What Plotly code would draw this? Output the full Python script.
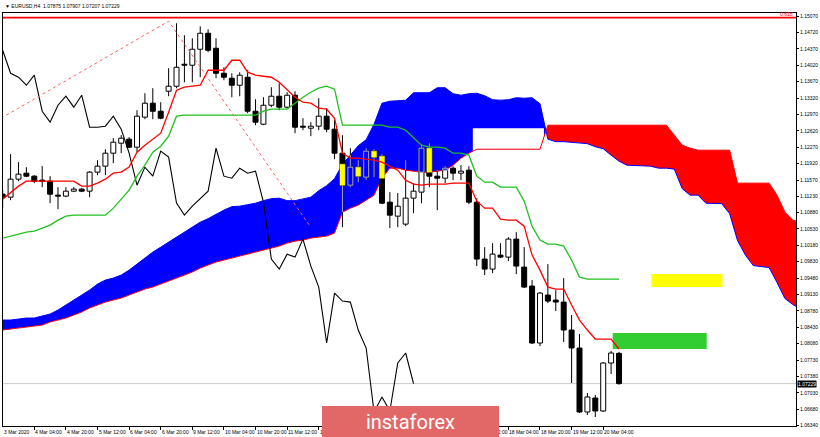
import plotly.graph_objects as go

# ---------------- data (EURUSD H4) ----------------
opens = [1.11270, 1.11206, 1.11590, 1.11718, 1.11654, 1.11569, 1.11547, 1.11249, 1.11228, 1.11334,
         1.11377, 1.11334, 1.11739, 1.11867, 1.12144, 1.12357, 1.12443, 1.12272, 1.12912, 1.13210,
         1.13039, 1.13466, 1.13572, 1.14041, 1.14020, 1.14361, 1.14702, 1.14382, 1.13849, 1.13743,
         1.13593, 1.13764, 1.13039, 1.12762, 1.13167, 1.13359, 1.13125, 1.13380, 1.12720, 1.12677,
         1.12720, 1.12933, 1.12656, 1.12144, 1.11462, 1.11846, 1.11633, 1.12187, 1.12080, 1.11100,
         1.10801, 1.10631, 1.11185, 1.11313, 1.12251, 1.11654, 1.11611, 1.11824, 1.11718, 1.11782,
         1.11100, 1.09885, 1.09672, 1.09970, 1.09927, 1.10311, 1.09714, 1.09310, 1.08095, 1.09118,
         1.09011, 1.08968, 1.08372, 1.07988, 1.06624, 1.06922, 1.06645, 1.07668, 1.07875]
highs = [1.11355, 1.12123, 1.11952, 1.11846, 1.11675, 1.11867, 1.11654, 1.11419, 1.11419, 1.11419,
         1.11398, 1.11760, 1.11995, 1.12229, 1.12464, 1.12528, 1.12485, 1.13061, 1.13423, 1.13530,
         1.13231, 1.13956, 1.14915, 1.14659, 1.14595, 1.14851, 1.14787, 1.14595, 1.13977, 1.13849,
         1.13871, 1.13913, 1.13295, 1.13338, 1.13551, 1.13636, 1.13444, 1.13466, 1.12890, 1.12805,
         1.13316, 1.13103, 1.12848, 1.12528, 1.12251, 1.11995, 1.12251, 1.12229, 1.12123, 1.11313,
         1.11292, 1.11995, 1.11505, 1.12336, 1.12357, 1.11782, 1.11867, 1.11867, 1.11888, 1.11867,
         1.11185, 1.10140, 1.10226, 1.10226, 1.10354, 1.10460, 1.10140, 1.09437, 1.09182, 1.09778,
         1.09224, 1.09480, 1.08692, 1.08287, 1.07029, 1.06986, 1.07690, 1.07924, 1.07907]
lows = [1.10972, 1.11142, 1.11547, 1.11633, 1.11505, 1.11419, 1.11078, 1.10950, 1.11206, 1.11313,
        1.11313, 1.11206, 1.11675, 1.11675, 1.11931, 1.12144, 1.12251, 1.12165, 1.12869, 1.12869,
        1.12869, 1.13359, 1.13530, 1.13657, 1.13657, 1.13764, 1.14297, 1.13743, 1.13700, 1.13338,
        1.13359, 1.12997, 1.12741, 1.12741, 1.13125, 1.13061, 1.13103, 1.12570, 1.12634, 1.12507,
        1.12634, 1.12592, 1.12016, 1.10567, 1.11419, 1.11526, 1.11569, 1.11633, 1.11057, 1.10545,
        1.10567, 1.10588, 1.10865, 1.11078, 1.11419, 1.10929, 1.11505, 1.11569, 1.11569, 1.11057,
        1.09736, 1.09544, 1.09586, 1.09906, 1.09842, 1.09565, 1.09267, 1.08073, 1.08031, 1.08947,
        1.08777, 1.08116, 1.07242, 1.06603, 1.06560, 1.06517, 1.06624, 1.07434, 1.07207]
closes = [1.11206, 1.11590, 1.11697, 1.11654, 1.11547, 1.11547, 1.11270, 1.11228, 1.11334, 1.11377,
          1.11334, 1.11739, 1.11867, 1.12144, 1.12379, 1.12464, 1.12272, 1.12933, 1.13210, 1.13039,
          1.12890, 1.13572, 1.13977, 1.14020, 1.14361, 1.14702, 1.14339, 1.13849, 1.13764, 1.13593,
          1.13807, 1.13039, 1.12805, 1.13167, 1.13359, 1.13125, 1.13380, 1.12698, 1.12698, 1.12720,
          1.12933, 1.12656, 1.12144, 1.11462, 1.11846, 1.11654, 1.12187, 1.12059, 1.11078, 1.10822,
          1.11014, 1.11185, 1.11334, 1.12251, 1.11654, 1.11611, 1.11824, 1.11718, 1.11760, 1.11100,
          1.09885, 1.09672, 1.09991, 1.09927, 1.10311, 1.09736, 1.09288, 1.08095, 1.09160, 1.08990,
          1.08968, 1.08372, 1.07988, 1.06624, 1.06944, 1.06645, 1.07668, 1.07882, 1.07229]

tenkan = [1.11164, 1.11313, 1.11441, 1.11547, 1.11547, 1.11547, 1.11547, 1.11547, 1.11547, 1.11547,
          1.11441, 1.11441, 1.11505, 1.11590, 1.11718, 1.11739, 1.11846, 1.12165, 1.12315, 1.12443,
          1.12570, 1.13018, 1.13487, 1.13551, 1.13572, 1.13593, 1.13913, 1.13913, 1.13913, 1.14126,
          1.14126, 1.13871, 1.13807, 1.13785, 1.13764, 1.13657, 1.13487, 1.13338, 1.13231, 1.13210,
          1.13103, 1.13082, 1.12890, 1.12144, 1.12038, 1.12038, 1.12016, 1.11995, 1.11952, 1.11867,
          1.11782, 1.11569, 1.11483, 1.11462, 1.11483, 1.11483, 1.11483, 1.11505, 1.11505, 1.11505,
          1.11121, 1.10972, 1.10972, 1.10737, 1.10716, 1.10716, 1.10588, 1.09970, 1.09650, 1.09288,
          1.09246, 1.09246, 1.08905, 1.08585, 1.08372, 1.08180, 1.08180, 1.08180, 1.07967]
kijun = [1.10332, 1.10375, 1.10418, 1.10460, 1.10482, 1.10545, 1.10609, 1.10716, 1.10801, 1.10822,
         1.10822, 1.10822, 1.10822, 1.10822, 1.10972, 1.11164, 1.11355, 1.11654, 1.11888, 1.12165,
         1.12293, 1.12507, 1.12933, 1.12954, 1.12954, 1.12954, 1.12954, 1.12954, 1.12954, 1.12954,
         1.12954, 1.12954, 1.12954, 1.13039, 1.13082, 1.13082, 1.13082, 1.13210, 1.13338, 1.13444,
         1.13530, 1.13572, 1.13508, 1.12741, 1.12741, 1.12741, 1.12741, 1.12741, 1.12741, 1.12698,
         1.12698, 1.12634, 1.12464, 1.12315, 1.12272, 1.12272, 1.12251, 1.12144, 1.12144, 1.12102,
         1.11654, 1.11526, 1.11526, 1.11419, 1.11419, 1.11419, 1.11121, 1.10588, 1.10290, 1.10204,
         1.10204, 1.10162, 1.09864, 1.09501, 1.09459, 1.09459, 1.09459, 1.09459, 1.09459]
# Senkou span A for the first 26 plotted bars (earlier history not on chart)
senkou_a_early = [1.08585, 1.08585, 1.08606, 1.08628, 1.08628, 1.08670, 1.08713, 1.08798, 1.08905, 1.09011,
                  1.09118, 1.09224, 1.09352, 1.09437, 1.09480, 1.09544, 1.09650, 1.09778, 1.09906, 1.10034,
                  1.10140, 1.10247, 1.10354, 1.10460, 1.10567, 1.10673]
senkou_b = [1.08372, 1.08393, 1.08414, 1.08436, 1.08457, 1.08478, 1.08542, 1.08585, 1.08628, 1.08692,
            1.08756, 1.08841, 1.08905, 1.08968, 1.09011, 1.09054, 1.09118, 1.09182, 1.09246, 1.09288,
            1.09352, 1.09416, 1.09480, 1.09544, 1.09608, 1.09693, 1.09757, 1.09821, 1.09864, 1.09906,
            1.09949, 1.09991, 1.10034, 1.10077, 1.10119, 1.10162, 1.10226, 1.10268, 1.10290, 1.10332,
            1.10354, 1.10375, 1.10439, 1.10886, 1.10972, 1.11036, 1.11142, 1.11249, 1.11611, 1.11824,
            1.11824, 1.11782, 1.11760, 1.11739, 1.11739, 1.11760, 1.11782, 1.11888, 1.12038, 1.12144,
            1.12229, 1.12229, 1.12229, 1.12229, 1.12229, 1.12229, 1.12229, 1.12229, 1.12229, 1.12741,
            1.12741, 1.12741, 1.12741, 1.12741, 1.12741, 1.12741, 1.12741, 1.12741, 1.12741, 1.12741,
            1.12741, 1.12741, 1.12741, 1.12741, 1.12741, 1.12528, 1.12315, 1.12251, 1.12208, 1.12208,
            1.12208, 1.12208, 1.12208, 1.11505, 1.11505, 1.11505, 1.11505, 1.11505, 1.11249, 1.10886,
            1.10716, 1.10673, 1.10631, 1.10588, 1.10545]
# unfilled strip at the bottom of the blue cloud (bar range and upper price)
cloud_gap_range = [59.5, 68.5]
cloud_gap_top = 1.12677

x_tick_idx = [4, 8, 12, 16, 20, 24, 28, 32, 36, 40, 44, 48, 52, 56, 60, 64, 68, 72, 76]
x_tick_text = ["4 Mar 04:00", "4 Mar 20:00", "5 Mar 12:00", "6 Mar 04:00", "6 Mar 20:00",
               "9 Mar 12:00", "10 Mar 04:00", "10 Mar 20:00", "11 Mar 12:00", "12 Mar 04:00",
               "12 Mar 20:00", "13 Mar 12:00", "16 Mar 04:00", "16 Mar 20:00", "17 Mar 12:00",
               "18 Mar 04:00", "18 Mar 20:00", "19 Mar 12:00", "20 Mar 04:00"]
first_label = "3 Mar 2020"
y_tick_vals = [1.15070, 1.14720, 1.14370, 1.14020, 1.13670, 1.13320, 1.12970, 1.12620, 1.12270,
               1.11920, 1.11570, 1.11230, 1.10880, 1.10530, 1.10180, 1.09830, 1.09480, 1.09130,
               1.08780, 1.08430, 1.08080, 1.07730, 1.07380, 1.07030, 1.06680, 1.06340]

title_text = "\u25BC EURUSD,H4  1.07875 1.07907 1.07207 1.07229"
last_price = 1.07229
fibo_level = 1.15036
fibo_label = "0.618"
trend_x = [-0.2, 21.0, 38.95]
trend_y = [1.12890, 1.14960, 1.10573]
yellow_box = dict(x0=82.1, x1=91.1, y0=1.09288, y1=1.09565)
green_box = dict(x0=77.2, x1=89.1, y0=1.07967, y1=1.08308)
watermark = "instaforex"

# ---------------- derived ----------------
SHIFT = 26
n = len(closes)
senkou_a = senkou_a_early + [(tenkan[k - SHIFT] + kijun[k - SHIFT]) / 2 for k in range(SHIFT, n + SHIFT)]
cloud_x = list(range(len(senkou_a)))
chikou_x = [i - SHIFT for i in range(SHIFT, n)]
chikou_y = closes[SHIFT:]

BLUE = "#0000FF"
RED = "#FF0000"
BW = 0.63  # body width in bar units

fig = go.Figure()


def cloud_segments(a, b):
    segs = []
    cur = None
    for k in range(len(a)):
        d = a[k] - b[k]
        s = d >= 0
        if cur is None:
            cur = dict(s=s, x=[k], a=[a[k]], b=[b[k]])
        elif s == cur["s"]:
            cur["x"].append(k); cur["a"].append(a[k]); cur["b"].append(b[k])
        else:
            d0 = a[k - 1] - b[k - 1]
            t = d0 / (d0 - d)
            xc = k - 1 + t
            yc = a[k - 1] + t * (a[k] - a[k - 1])
            cur["x"].append(xc); cur["a"].append(yc); cur["b"].append(yc)
            segs.append(cur)
            cur = dict(s=s, x=[xc, k], a=[yc, a[k]], b=[yc, b[k]])
    segs.append(cur)
    return segs


def interp(arr, x):
    i0 = int(x)
    t = x - i0
    if t == 0:
        return arr[i0]
    return arr[i0] + t * (arr[i0 + 1] - arr[i0])


def rects(xs, y0s, y1s):
    px, py = [], []
    for x, y0, y1 in zip(xs, y0s, y1s):
        l, r = x - BW / 2, x + BW / 2
        px += [l, r, r, l, l, None]
        py += [y0, y0, y1, y1, y0, None]
    return px, py


def add_rects(xs, y0s, y1s, fill, line, lw=1):
    if not xs:
        return
    px, py = rects(xs, y0s, y1s)
    fig.add_trace(go.Scatter(x=px, y=py, mode="lines", fill="toself", fillcolor=fill,
                             line=dict(color=line, width=lw), showlegend=False, hoverinfo="skip"))


for seg in cloud_segments(senkou_a, senkou_b):
    px = seg["x"] + seg["x"][::-1]
    py = seg["a"] + seg["b"][::-1]
    col = BLUE if seg["s"] else RED
    fig.add_trace(go.Scatter(x=px, y=py, fill="toself", fillcolor=col, mode="none",
                             showlegend=False, hoverinfo="skip"))

# unfilled strip
g0, g1 = cloud_gap_range
gxs = [g0] + [k for k in range(int(g0) + 1, int(g1) + 1)] + [g1]
gys = [interp(senkou_b, x) for x in gxs]
fig.add_trace(go.Scatter(x=gxs + gxs[::-1], y=gys + [cloud_gap_top] * len(gxs), fill="toself",
                         fillcolor="white", mode="none", showlegend=False, hoverinfo="skip"))

fig.add_trace(go.Scatter(x=cloud_x, y=senkou_a, mode="lines", line=dict(color=BLUE, width=1),
                         showlegend=False, hoverinfo="skip"))
fig.add_trace(go.Scatter(x=cloud_x, y=senkou_b, mode="lines", line=dict(color=RED, width=1),
                         showlegend=False, hoverinfo="skip"))

# wicks
wx, wy = [], []
for i in range(n):
    wx += [i, i, None]
    wy += [lows[i], highs[i], None]
fig.add_trace(go.Scatter(x=wx, y=wy, mode="lines", line=dict(color="black", width=1),
                         showlegend=False, hoverinfo="skip"))

# parts of candles inside the blue cloud (MT4 xor-style colouring)
gx, gy = [], []
yb = ([], [], [])
bb = ([], [], [])
for i in range(n):
    a, b = senkou_a[i], senkou_b[i]
    if a <= b:
        continue
    lo, hi = b, a
    if g0 <= i <= g1:
        lo = max(lo, cloud_gap_top)
    w0, w1 = max(lows[i], lo), min(highs[i], hi)
    if w1 > w0:
        gx += [i, i, None]
        gy += [w0, w1, None]
    bot, top = min(opens[i], closes[i]), max(opens[i], closes[i])
    o0, o1 = max(bot, lo), min(top, hi)
    if o1 > o0:
        tgt = yb if closes[i] < opens[i] else bb
        tgt[0].append(i); tgt[1].append(o0); tgt[2].append(o1)
fig.add_trace(go.Scatter(x=gx, y=gy, mode="lines", line=dict(color="#A8A8A8", width=1),
                         showlegend=False, hoverinfo="skip"))

# bodies
bear = [i for i in range(n) if closes[i] < opens[i]]
bull = [i for i in range(n) if closes[i] >= opens[i]]
add_rects(bear, [closes[i] for i in bear], [opens[i] for i in bear], "black", "black")
add_rects(bull, [opens[i] for i in bull], [closes[i] for i in bull], "white", "black")
add_rects(yb[0], yb[1], yb[2], "#FFFF00", "#FFFF00", 0.5)
add_rects(bb[0], bb[1], bb[2], BLUE, "#A8A8A8", 1)

# Ichimoku lines
fig.add_trace(go.Scatter(x=chikou_x, y=chikou_y, mode="lines", line=dict(color="black", width=1.1),
                         showlegend=False, hoverinfo="skip"))
fig.add_trace(go.Scatter(x=list(range(n)), y=kijun, mode="lines", line=dict(color="#1FC01F", width=1.3),
                         showlegend=False, hoverinfo="skip"))
fig.add_trace(go.Scatter(x=list(range(n)), y=tenkan, mode="lines", line=dict(color=RED, width=1.3),
                         showlegend=False, hoverinfo="skip"))
# dotted trend lines
fig.add_trace(go.Scatter(x=trend_x, y=trend_y, mode="lines", line=dict(color="#FF6060", width=1, dash="dot"),
                         showlegend=False, hoverinfo="skip"))

FONT = "Liberation Sans"
shapes = [
    dict(type="line", xref="paper", x0=0, x1=1, yref="y", y0=last_price, y1=last_price,
         line=dict(color="#C8C8C8", width=1), layer="below"),
    dict(type="line", xref="paper", x0=0, x1=1, yref="y", y0=fibo_level, y1=fibo_level,
         line=dict(color=RED, width=1.6), layer="below"),
    dict(type="rect", xref="x", yref="y", fillcolor="#FFFF00", line=dict(width=0), layer="below", **yellow_box),
    dict(type="rect", xref="x", yref="y", fillcolor="#32CD32", line=dict(width=0), layer="below", **green_box),
]

PL, PR, PT, PB = 2, 797, 13, 426
PW, PH = PR - PL, PB - PT


def px2paper_x(px):
    return (px - PL) / PW


def px2paper_y(py):
    return (PB - py) / PH


annotations = []
for i, t in zip(x_tick_idx, x_tick_text):
    annotations.append(dict(x=i, xref="x", y=0, yref="paper", text=t, showarrow=False,
                            xanchor="left", yanchor="top", xshift=-1, yshift=-1,
                            font=dict(family=FONT, size=5, color="black")))
annotations.append(dict(x=0, xref="paper", y=0, yref="paper", text=first_label, showarrow=False,
                        xanchor="left", yanchor="top", xshift=-1, yshift=-1,
                        font=dict(family=FONT, size=5, color="black")))
annotations.append(dict(x=0, xref="paper", y=1, yref="paper", text=title_text, showarrow=False,
                        xanchor="left", yanchor="bottom", xshift=0, yshift=2,
                        font=dict(family=FONT, size=5, color="black")))
annotations.append(dict(x=1, xref="paper", y=fibo_level, yref="y", text=fibo_label, showarrow=False,
                        xanchor="right", yanchor="bottom", xshift=-1, yshift=-1,
                        font=dict(family=FONT, size=5, color=RED)))
annotations.append(dict(x=1, xref="paper", y=last_price, yref="y", text=f"{last_price:.5f}", showarrow=False,
                        xanchor="left", yanchor="middle", xshift=1, bgcolor="black", borderpad=0,
                        font=dict(family=FONT, size=5, color="white")))
# watermark plate drawn last so it covers the date labels beneath it
annotations.append(dict(x=px2paper_x(410.5), xref="paper", y=px2paper_y(422), yref="paper",
                        text=watermark, showarrow=False, xanchor="center", yanchor="middle",
                        width=177, height=32, borderpad=0, borderwidth=0, valign="middle",
                        bgcolor="rgb(226,104,104)",
                        font=dict(family="Roboto", size=20, color="white")))

fig.update_layout(
    width=820, height=437,
    margin=dict(l=PL, r=820 - PR, t=PT, b=437 - PB, pad=0),
    paper_bgcolor="white", plot_bgcolor="white",
    showlegend=False, hovermode=False,
    shapes=shapes, annotations=annotations,
    xaxis=dict(range=[0.04, 100.4], showgrid=False, zeroline=False, showline=True,
               linecolor="black", linewidth=1, mirror=True, ticks="outside", ticklen=3,
               tickcolor="black", tickvals=x_tick_idx, showticklabels=False),
    yaxis=dict(range=[1.06325, 1.15134], side="right", showgrid=False, zeroline=False,
               showline=True, linecolor="black", linewidth=1, mirror=True, ticks="outside",
               ticklen=2, tickcolor="black", tickvals=y_tick_vals,
               ticktext=[f"{v:.5f}" for v in y_tick_vals],
               tickfont=dict(family=FONT, size=5, color="black")),
)

fig.write_html("out.html", config={"displayModeBar": False},
               post_script="document.body.style.margin='0';document.body.style.overflow='hidden';")
